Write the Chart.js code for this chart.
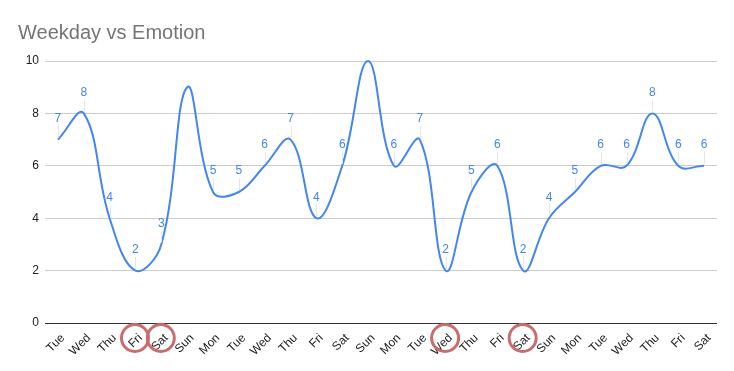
<!DOCTYPE html>
<html>
<head>
<meta charset="utf-8">
<script src="https://cdn.jsdelivr.net/npm/chart.js@4"></script>
<style>
  html, body { margin: 0; padding: 0; background: #fff; }
  #wrap { width: 734px; height: 371px; position: relative; }
</style>
</head>
<body>
<div id="wrap"><canvas id="c"></canvas></div>
<script>
const categories = ["Tue","Wed","Thu","Fri","Sat","Sun","Mon","Tue","Wed","Thu","Fri","Sat","Sun","Mon","Tue","Wed","Thu","Fri","Sat","Sun","Mon","Tue","Wed","Thu","Fri","Sat"];
const emotion = [7, 8, 4, 2, 3, 9, 5, 5, 6, 7, 4, 6, 10, 6, 7, 2, 5, 6, 2, 4, 5, 6, 6, 8, 6, 6];
const hiddenLabels = [5, 12];
const circled = [3, 4, 15, 18];
const yTicks = [0, 2, 4, 6, 8, 10];

const dataLabels = {
  id: 'dataLabels',
  afterDatasetsDraw(chart) {
    const ctx = chart.ctx;
    const meta = chart.getDatasetMeta(0);
    ctx.save();
    meta.data.forEach((pt, i) => {
      if (hiddenLabels.includes(i)) return;
      ctx.strokeStyle = '#e6e6e6';
      ctx.lineWidth = 1;
      ctx.beginPath();
      ctx.moveTo(Math.round(pt.x) + 0.5, pt.y - 14);
      ctx.lineTo(Math.round(pt.x) + 0.5, pt.y - 2);
      ctx.stroke();
      ctx.fillStyle = '#4285f4';
      ctx.font = '12px "Liberation Sans", Arial, sans-serif';
      ctx.textAlign = 'center';
      ctx.textBaseline = 'middle';
      ctx.fillText(String(emotion[i]), pt.x, pt.y - 21);
    });
    ctx.restore();
  }
};

const circles = {
  id: 'circles',
  afterDraw(chart) {
    const ctx = chart.ctx;
    const xs = chart.scales.x;
    ctx.save();
    ctx.strokeStyle = '#cc6b6b';
    ctx.lineWidth = 3;
    circled.forEach(i => {
      const x = xs.getPixelForTick(i) - 0.5;
      const y = chart.chartArea.bottom + 15;
      ctx.beginPath();
      ctx.arc(x, y, 13.5, 0, Math.PI * 2);
      ctx.stroke();
    });
    ctx.restore();
  }
};

new Chart(document.getElementById('c'), {
  type: 'line',
  data: {
    labels: categories,
    datasets: [{
      data: emotion,
      borderColor: '#4285f4',
      borderWidth: 2,
      pointRadius: 0,
      tension: 0.4,
      fill: false,
      clip: false
    }]
  },
  options: {
    responsive: true,
    maintainAspectRatio: false,
    animation: false,
    layout: { padding: { left: 18, right: 17, top: 0, bottom: 0 } },
    plugins: {
      legend: { display: false },
      tooltip: { enabled: false },
      title: {
        display: true,
        text: 'Weekday vs Emotion',
        align: 'start',
        color: '#757575',
        font: { family: '"Liberation Sans", Arial, sans-serif', size: 20, weight: 'normal' },
        padding: { top: 21, bottom: 16 }
      }
    },
    scales: {
      x: {
        offset: true,
        grid: { display: false },
        border: { display: false },
        ticks: {
          autoSkip: false,
          maxRotation: 45,
          minRotation: 45,
          color: '#222',
          padding: 0,
          labelOffset: 5,
          font: { family: '"Liberation Sans", Arial, sans-serif', size: 12 }
        },
        afterFit(s) { s.height = 48; }
      },
      y: {
        min: 0,
        max: 10,
        afterBuildTicks(s) { s.ticks = yTicks.map(v => ({ value: v })); },
        grid: {
          drawTicks: false,
          color: c => (c.tick && c.tick.value === 0) ? '#333' : '#cccccc',
          lineWidth: 1
        },
        border: { display: false },
        ticks: {
          color: '#222',
          padding: 6,
          font: { family: '"Liberation Sans", Arial, sans-serif', size: 12 }
        },
        afterFit(s) { s.width = 27; }
      }
    }
  },
  plugins: [dataLabels, circles]
});
</script>
</body>
</html>
